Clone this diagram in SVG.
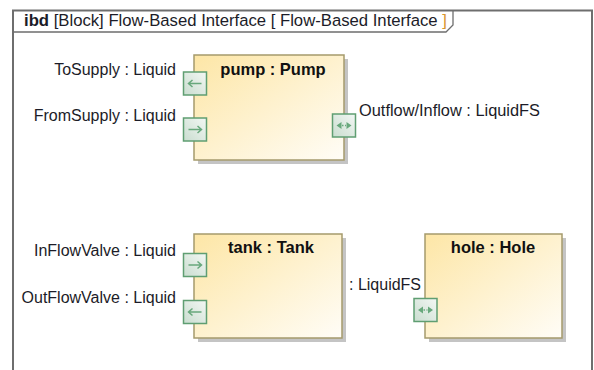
<svg xmlns="http://www.w3.org/2000/svg" width="594" height="370" viewBox="0 0 594 370">
<defs>
<style>
.frame{fill:#fff;stroke:#6e6e6e;stroke-width:2}
.tab{fill:none;stroke:#6e6e6e;stroke-width:1.3}
.lbl{font-family:"Liberation Sans",Arial,sans-serif;font-size:16px;fill:#1c1c28}
.end{text-anchor:end}
.ttl{font-family:"Liberation Sans",Arial,sans-serif;font-size:16.5px;font-weight:bold;fill:#111;text-anchor:middle}
.blk{fill:url(#bg);stroke:#a59a6c;stroke-width:1.5}
.shd{fill:#c4c4c4}
.prt{fill:url(#pg);stroke:#5f9e72;stroke-width:1.5}
.arr{fill:none;stroke:#68a87c;stroke-width:1.5}
.arf{fill:#68a87c}
</style>
<linearGradient id="bg" x1="0" y1="0" x2="1" y2="1"><stop offset="0" stop-color="#fde6a6"/><stop offset="1" stop-color="#fffdf7"/></linearGradient>
<linearGradient id="pg" x1="1" y1="0" x2="0" y2="1"><stop offset="0" stop-color="#f3f7f4"/><stop offset="1" stop-color="#c9ddcf"/></linearGradient>
<g id="pIn"><rect class="prt" x="0" y="0" width="23" height="23"/><path class="arr" d="M5 11.5H18M14 8L18 11.5L14 15"/></g>
<g id="pOut"><rect class="prt" x="0" y="0" width="23" height="23"/><path class="arr" d="M5 11.5H18M9 8L5 11.5L9 15"/></g>
<g id="pIO"><rect class="prt" x="0" y="0" width="23" height="23"/><path class="arf" d="M4 11.5L9 8V15Z M19 11.5L14 8V15Z"/><path class="arr" d="M9.5 11.5H13.5" stroke-dasharray="1.5 1.5"/></g>
</defs>
<rect width="594" height="370" fill="#fff"/>
<g id="frame">
<rect class="frame" x="13" y="10.5" width="579" height="366"/>
<path class="tab" d="M13 32H446L453 25V10.5"/>
<text class="lbl" x="24" y="26" style="font-size:16.7px"><tspan font-weight="bold">ibd</tspan> [Block] Flow-Based Interface [ Flow-Based Interface <tspan fill="#d8962c">]</tspan></text>
</g>
<g id="connectors"/>
<g id="pump">
<rect class="shd" x="198" y="59" width="150" height="105"/>
<rect class="blk" x="194" y="55" width="150" height="105"/>
<text class="ttl" x="273" y="75">pump : Pump</text>
</g>
<g id="pump-ToSupply">
<use href="#pOut" x="183.5" y="72"/>
<text class="lbl end" x="176" y="74.5">ToSupply : Liquid</text>
</g>
<g id="pump-FromSupply">
<use href="#pIn" x="183.5" y="118"/>
<text class="lbl end" x="176" y="121">FromSupply : Liquid</text>
</g>
<g id="pump-OutflowInflow">
<use href="#pIO" x="332.5" y="114"/>
<text class="lbl" x="359" y="116" textLength="181" lengthAdjust="spacingAndGlyphs">Outflow/Inflow : LiquidFS</text>
</g>
<g id="tank">
<rect class="shd" x="198" y="238" width="148" height="104"/>
<rect class="blk" x="194" y="234" width="148" height="104"/>
<text class="ttl" x="271" y="252.5">tank : Tank</text>
</g>
<g id="tank-InFlowValve">
<use href="#pIn" x="183.5" y="253.5"/>
<text class="lbl end" x="176" y="256">InFlowValve : Liquid</text>
</g>
<g id="tank-OutFlowValve">
<use href="#pOut" x="183.5" y="300.5"/>
<text class="lbl end" x="176" y="302.5">OutFlowValve : Liquid</text>
</g>
<g id="hole">
<rect class="shd" x="429" y="238" width="137" height="104"/>
<rect class="blk" x="425" y="234" width="137" height="104"/>
<text class="ttl" x="493" y="252.5">hole : Hole</text>
</g>
<g id="hole-port">
<use href="#pIO" x="414" y="298.5"/>
<text class="lbl" x="349" y="290">: LiquidFS</text>
</g>
</svg>
